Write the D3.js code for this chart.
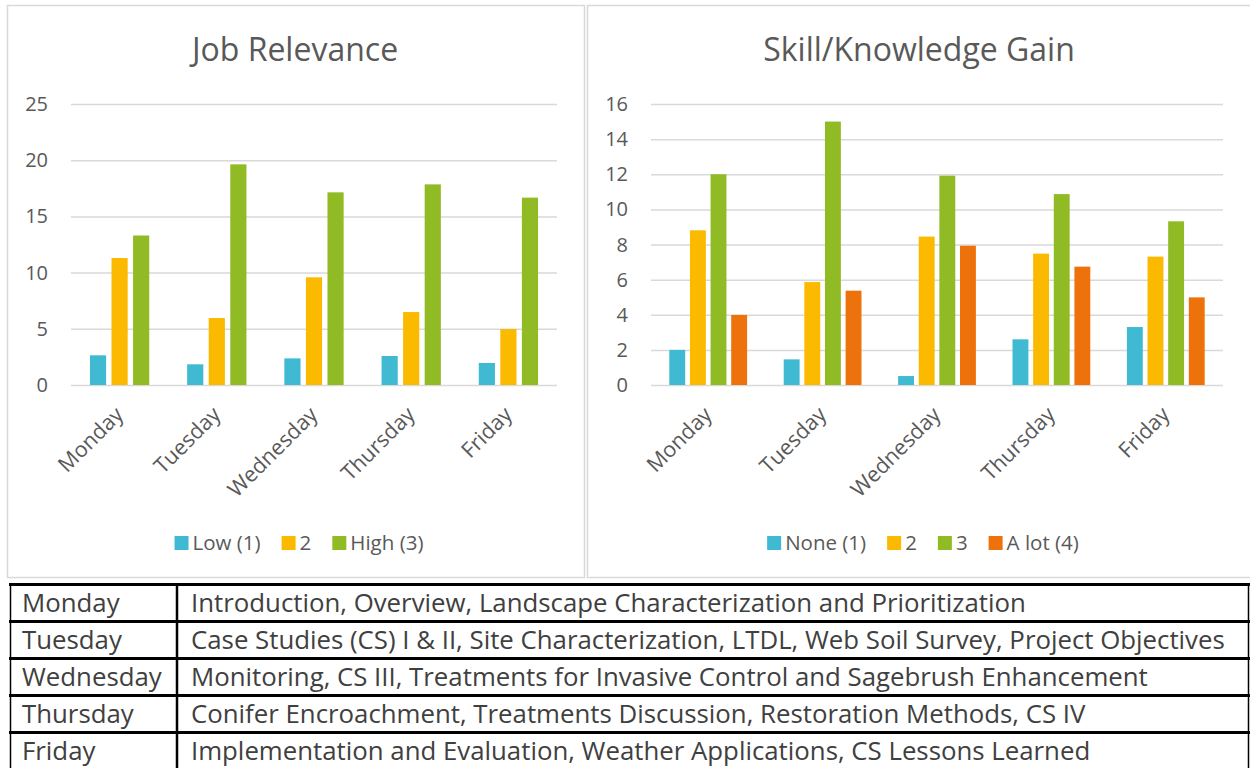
<!DOCTYPE html>
<html>
<head>
<meta charset="utf-8">
<script src="https://cdn.jsdelivr.net/npm/d3@7"></script>
<style>
body { margin: 0; background: #fff; }
svg { display: block; font-family: "Open Sans", sans-serif; }
</style>
</head>
<body>
<script>
'use strict';

// categories
const days = ['Monday', 'Tuesday', 'Wednesday', 'Thursday', 'Friday']

// Job Relevance
const jobSeries = ['Low (1)', '2', 'High (3)']
const jobLow = [2.64, 1.84, 2.37, 2.58, 1.96]
const jobMid = [11.3, 5.96, 9.58, 6.49, 4.98]
const jobHigh = [13.3, 19.63, 17.14, 17.85, 16.67]
const jobTicks = [0, 5, 10, 15, 20, 25]

// Skill/Knowledge Gain
const skillSeries = ['None (1)', '2', '3', 'A lot (4)']
const skillNone = [2, 1.46, 0.51, 2.6, 3.3]
const skillTwo = [8.81, 5.86, 8.45, 7.48, 7.31]
const skillThree = [12, 15, 11.92, 10.87, 9.32]
const skillALot = [3.99, 5.37, 7.93, 6.74, 4.99]
const skillTicks = [0, 2, 4, 6, 8, 10, 12, 14, 16]

// table
const topics = [
    'Introduction, Overview, Landscape Characterization and Prioritization',
    'Case Studies (CS) I & II, Site Characterization, LTDL, Web Soil Survey, Project Objectives',
    'Monitoring, CS III, Treatments for Invasive Control and Sagebrush Enhancement',
    'Conifer Encroachment, Treatments Discussion, Restoration Methods, CS IV',
    'Implementation and Evaluation, Weather Applications, CS Lessons Learned'
]

const GREY = '#595959'

const svg = d3.select('body').append('svg')
    .attr('width', 1250)
    .attr('height', 768)

function texto(g, x, y, txt, size, anchor, fill, extra='') {
    return g.append('text')
        .attr('transform', `translate(${x},${y}) ${extra}`)
        .attr('text-anchor', anchor)
        .attr('font-size', size)
        .attr('fill', fill)
        .text(txt)
}

class BarChart {
    constructor(cfg) {
        this.cfg = cfg
        this.g = svg.append('g')
        this.desenhaPainel()
        this.criaEscalas()
        this.desenhaGrade()
        this.desenhaBarras()
        this.desenhaLegenda()
    }

    desenhaPainel() {
        const c = this.cfg
        this.g.append('rect')
            .attr('x', c.panel[0]).attr('y', 5.5)
            .attr('width', c.panel[1] - c.panel[0]).attr('height', 572)
            .attr('fill', 'none').attr('stroke', '#d9d9d9').attr('stroke-width', 1.5)
        texto(this.g, c.titleX, 61, c.title, 32, 'middle', GREY)
    }

    criaEscalas() {
        const c = this.cfg
        this.x = d3.scaleBand().domain(days)
            .range([c.left, c.right])
            .paddingInner(c.groupPad).paddingOuter(c.groupPad / 2)
        this.xs = d3.scaleBand().domain(c.series)
            .range([0, this.x.bandwidth()])
            .paddingInner(c.barPad)
        this.y = d3.scaleLinear().domain([0, d3.max(c.ticks)])
            .range([385, 104])
    }

    desenhaGrade() {
        const c = this.cfg
        const eixo = d3.axisLeft(this.y).tickValues(c.ticks)
            .tickSize(-(c.right - c.left)).tickFormat('')
        const ga = this.g.append('g')
            .attr('transform', `translate(${c.left},0)`)
            .call(eixo)
        ga.select('.domain').remove()
        ga.selectAll('line').attr('stroke', '#d9d9d9').attr('stroke-width', 1.5)

        for (let t of c.ticks) {
            texto(this.g, c.left - 23, this.y(t) + 7, t, 20, 'end', GREY)
        }
        for (let d of days) {
            const cx = this.x(d) + this.x.bandwidth() / 2
            texto(this.g, cx + 5, 416, d, 21.5, 'end', GREY, 'rotate(-45)')
        }
    }

    desenhaBarras() {
        const c = this.cfg
        c.values.forEach((vals, i) => {
            const nome = c.series[i]
            this.g.append('g').selectAll('rect')
                .data(days.map((d, j) => ({dia: d, v: vals[j]})))
                .enter().append('rect')
                .attr('x', d => this.x(d.dia) + this.xs(nome))
                .attr('width', this.xs.bandwidth())
                .attr('y', d => this.y(d.v))
                .attr('height', d => this.y(0) - this.y(d.v))
                .attr('fill', c.colors[i])
        })
    }

    desenhaLegenda() {
        const c = this.cfg
        const lg = this.g.append('g')
        let x = 0
        c.series.forEach((nome, i) => {
            lg.append('rect').attr('x', x).attr('y', 536)
                .attr('width', 14).attr('height', 14).attr('fill', c.colors[i])
            const t = texto(lg, x + 18, 550, nome, 20.5, 'start', GREY)
            x += 18 + t.node().getComputedTextLength() + 21
        })
        x -= 21
        lg.attr('transform', `translate(${c.legendX - x / 2},0)`)
    }
}

new BarChart({
    panel: [7.5, 584.5], title: 'Job Relevance', titleX: 295, legendX: 299,
    left: 71, right: 557, groupPad: 0.39, barPad: 0.25,
    ticks: jobTicks, series: jobSeries,
    values: [jobLow, jobMid, jobHigh],
    colors: ['#40b9d3', '#fbb900', '#91bb25']
})

new BarChart({
    panel: [587.5, 1253], title: 'Skill/Knowledge Gain', titleX: 919, legendX: 923,
    left: 651, right: 1223, groupPad: 0.32, barPad: 0.23,
    ticks: skillTicks, series: skillSeries,
    values: [skillNone, skillTwo, skillThree, skillALot],
    colors: ['#40b9d3', '#fbb900', '#91bb25', '#ee720b']
})

// table of daily topics
const tab = svg.append('g')
const linhas = d3.range(days.length + 1).map(i => 584.5 + i * 37)
tab.selectAll('line.h').data(linhas).enter().append('line')
    .attr('x1', 9).attr('x2', 1250).attr('y1', d => d).attr('y2', d => d)
    .attr('stroke', '#000').attr('stroke-width', 3)
for (let xv of [10.5, 177, 1248.5]) {
    tab.append('line').attr('x1', xv).attr('x2', xv)
        .attr('y1', 584).attr('y2', 768)
        .attr('stroke', '#000').attr('stroke-width', xv === 177 ? 2.5 : 1.5)
}
days.forEach((d, i) => {
    const base = linhas[i] + 27.5
    texto(tab, 22, base, d, 25.8, 'start', '#404040')
    texto(tab, 191, base, topics[i], 25.8, 'start', '#404040')
})
</script>
</body>
</html>
